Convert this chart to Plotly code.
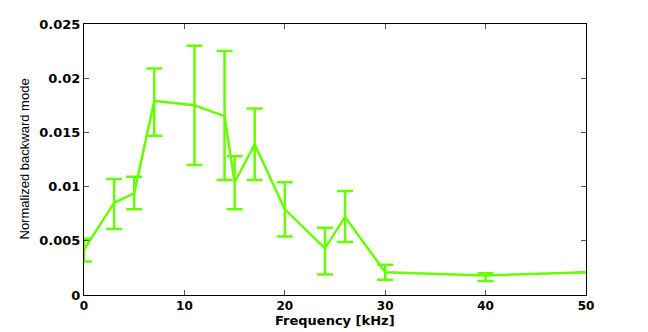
import plotly.graph_objects as go

# Frequency [kHz] and normalized backward mode
freq = [0, 3, 5, 7, 11, 14, 15, 17, 20, 24, 26, 30, 40, 50]
mode = [0.0042, 0.0085, 0.0094, 0.0179, 0.0175, 0.0165, 0.0104, 0.0139,
        0.0079, 0.0043, 0.0072, 0.0021, 0.0018, 0.0021]
upper = [0.0052, 0.0107, 0.0109, 0.0209, 0.0230, 0.0225, 0.0128, 0.0172,
         0.0104, 0.0062, 0.0096, 0.0028, 0.0020, 0.0021]
lower = [0.0031, 0.0061, 0.0079, 0.0147, 0.0120, 0.0106, 0.0079, 0.0106,
         0.0054, 0.0019, 0.0049, 0.0014, 0.0013, 0.0021]

x_ticks = [0, 10, 20, 30, 40, 50]
y_ticks = [0, 0.005, 0.01, 0.015, 0.02, 0.025]
y_labels = ['0', '0.005', '0.01', '0.015', '0.02', '0.025']

green = '#66ff00'
tick_font = {'family': 'DejaVu Sans', 'size': 13, 'color': 'black'}
xlab_font = {'family': 'DejaVu Sans', 'size': 12, 'color': 'black'}

err_plus = [u - m for u, m in zip(upper, mode)]
err_minus = [m - l for m, l in zip(mode, lower)]

fig = go.Figure()
fig.add_trace(go.Scatter(
    x=freq, y=mode, mode='lines',
    line={'color': green, 'width': 2.5},
    error_y={'type': 'data', 'symmetric': False,
             'array': err_plus, 'arrayminus': err_minus,
             'color': green, 'thickness': 2.5, 'width': 8},
    cliponaxis=False,
))

axis_style = {
    'showline': True, 'linewidth': 1, 'linecolor': 'black', 'mirror': 'ticks',
    'ticks': 'inside', 'ticklen': 5, 'tickcolor': '#555555',
    'showgrid': False, 'zeroline': False, 'automargin': False,
}

fig.update_xaxes(range=[0, 50], tickvals=x_ticks,
                 ticktext=[f'<b>{v}</b>' for v in x_ticks],
                 tickfont=xlab_font, **axis_style)
fig.update_yaxes(range=[0, 0.025], tickvals=y_ticks,
                 ticktext=[f'<b>{t}</b>' for t in y_labels],
                 tickfont=tick_font, **axis_style)

# Axis titles as annotations for exact placement
fig.add_annotation(text='<b>Frequency [kHz]</b>', xref='paper', yref='paper',
                   x=0.5, y=-0.093, xanchor='center', yanchor='middle',
                   showarrow=False, font={**xlab_font, 'size': 13})
fig.add_annotation(text='Normalized backward mode', xref='paper', yref='paper',
                   x=-0.1195, y=0.5, xanchor='center', yanchor='middle',
                   textangle=-90, showarrow=False,
                   font={'family': 'Liberation Sans Narrow, Liberation Sans',
                         'size': 13, 'color': 'black'})

# page body adds an 8px offset, so the figure is sized 8px smaller
fig.update_layout(
    width=640, height=324,
    margin={'l': 76, 'r': 62, 't': 16, 'b': 37},
    plot_bgcolor='white', paper_bgcolor='white',
    showlegend=False,
)

fig.write_html('out.html')
